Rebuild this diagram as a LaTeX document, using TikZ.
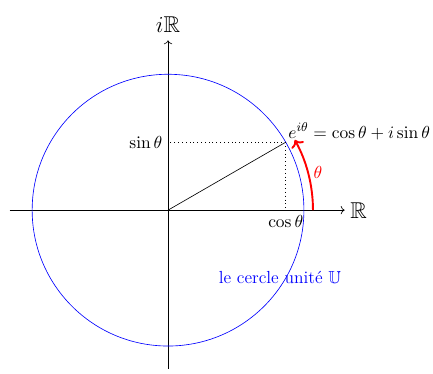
\documentclass[tikz,border=0pt]{standalone}
\usepackage{amsmath,amssymb}
\usepackage{tikz}
\usetikzlibrary{arrows.meta,positioning,calc}

\begin{document}
\begin{tikzpicture}[>=To, font=\fontsize{11}{13}\selectfont]
  \useasboundingbox (-3.71,-3.6) rectangle (5.85,4.64);
  % Points
  \coordinate (O) at (0,0);
  \coordinate (P) at (30:3);
  \coordinate (Px) at (P |- O);
  \coordinate (Py) at (P -| O);
  \coordinate (xmin) at (-3.5,0);
  \coordinate (xmax) at (3.9,0);
  \coordinate (ymin) at (0,-3.5);
  \coordinate (ymax) at (0,3.75);
  \coordinate (A0) at (3.2,0);

  % Axes
  \draw[->] (xmin) -- (xmax) node[right] (R) {\Large$\mathbb{R}$};
  \draw[->] (ymin) -- (ymax) node[above, inner sep=5pt] (iR) {\Large$i\mathbb{R}$};

  % Unit circle
  \draw[blue] (O) circle (3);
  \node[blue] (U) at (2.47,-1.48) {le cercle unit\'e $\mathbb{U}$};

  % Radius and projections
  \draw (O) -- (P);
  \draw[dotted] (P) -- (Px) node[below] (cos) {$\cos\theta$};
  \draw[dotted] (P) -- (Py) node[left] (sin) {$\sin\theta$};
  \node[above right, inner sep=1.5pt] (euler) at (P) {$e^{i\theta}=\cos\theta+i\sin\theta$};

  % Angle
  \draw[red, very thick, ->] (A0) arc (0:29:3.2);
  \node[red, right] (theta) at (15:3.2) {$\theta$};
\end{tikzpicture}
\end{document}
